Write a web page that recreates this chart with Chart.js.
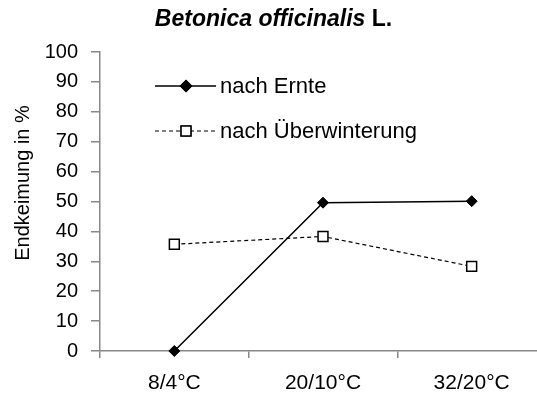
<!DOCTYPE html>
<html>
<head>
<meta charset="utf-8">
<script src="https://cdn.jsdelivr.net/npm/chart.js@4"></script>
<style>
  html, body { margin: 0; padding: 0; background: #fff; }
  #wrap { width: 537px; height: 397px; overflow: hidden; position: relative; }
  canvas { display: block; }
</style>
</head>
<body>
<div id="wrap"><canvas id="chart" width="560" height="397"></canvas></div>
<script>
// --- DATOS ---
const categorias = ["8/4°C", "20/10°C", "32/20°C"];
const nachErnte = [0, 49.6, 50.1];
const nachUeberwinterung = [35.7, 38.3, 28.3];
const serieNombres = ["nach Ernte", "nach Überwinterung"];
const ticksY = [0, 10, 20, 30, 40, 50, 60, 70, 80, 90, 100];
const tituloEjeY = "Endkeimung in %";

const FONT = "'Liberation Sans', Arial, sans-serif";
const GRIS = "#888888";

// título con partes en cursiva + título del eje Y
const tituloPlugin = {
  id: "tituloMixto",
  afterDraw(chart) {
    const ctx = chart.ctx;
    ctx.save();
    ctx.fillStyle = "#000";
    ctx.textBaseline = "alphabetic";
    const p1 = "Betonica officinalis";
    const p2 = " L.";
    ctx.font = "italic bold 23px " + FONT;
    const w1 = ctx.measureText(p1).width;
    ctx.font = "bold 23px " + FONT;
    const w2 = ctx.measureText(p2).width;
    let x = 273.5 - (w1 + w2) / 2;
    ctx.font = "italic bold 23px " + FONT;
    ctx.fillText(p1, x, 26);
    ctx.font = "bold 23px " + FONT;
    ctx.fillText(p2, x + w1, 26);

    // eje Y
    ctx.translate(23, 183);
    ctx.rotate(-Math.PI / 2);
    ctx.font = "20px " + FONT;
    ctx.textAlign = "center";
    ctx.textBaseline = "middle";
    ctx.fillText(tituloEjeY, 0, 0);
    ctx.restore();
  }
};

// leyenda dentro del área del gráfico
const leyendaPlugin = {
  id: "leyendaInterna",
  afterDraw(chart) {
    const ctx = chart.ctx;
    const filas = [86, 131];
    chart.data.datasets.forEach((ds, i) => {
      const y = filas[i];
      ctx.save();
      ctx.strokeStyle = ds.borderColor;
      ctx.lineWidth = ds.borderWidth;
      ctx.setLineDash(ds.borderDash || []);
      ctx.beginPath();
      ctx.moveTo(155, y);
      ctx.lineTo(216, y);
      ctx.stroke();
      ctx.setLineDash([]);
      Chart.helpers.drawPoint(ctx, {
        pointStyle: ds.pointStyle,
        radius: ds.pointRadius,
        borderWidth: ds.pointBorderWidth,
        rotation: 0
      }, 186, y);
      ctx.fillStyle = ds.pointBackgroundColor;
      ctx.strokeStyle = ds.pointBorderColor;
      ctx.lineWidth = ds.pointBorderWidth;
      ctx.fill();
      ctx.stroke();
      ctx.fillStyle = "#000";
      ctx.font = "22px " + FONT;
      ctx.textBaseline = "middle";
      ctx.fillText(ds.label, 220, y + 1);
      ctx.restore();
    });
  }
};

new Chart(document.getElementById("chart"), {
  type: "line",
  data: {
    labels: categorias,
    datasets: [
      {
        label: serieNombres[0],
        data: nachErnte,
        borderColor: "#000",
        borderWidth: 1.5,
        pointStyle: "rectRot",
        pointRadius: 5.5,
        pointBackgroundColor: "#000",
        pointBorderColor: "#000",
        pointBorderWidth: 1,
        clip: false
      },
      {
        label: serieNombres[1],
        data: nachUeberwinterung,
        borderColor: "#000",
        borderWidth: 1.2,
        borderDash: [4, 3],
        pointStyle: "rect",
        pointRadius: 7,
        pointBackgroundColor: "#fff",
        pointBorderColor: "#000",
        pointBorderWidth: 1.5,
        clip: false
      }
    ]
  },
  options: {
    responsive: false,
    animation: false,
    layout: { padding: { top: 52, right: 14, left: 0, bottom: 0 } },
    plugins: {
      legend: { display: false },
      title: { display: false },
      tooltip: { enabled: false }
    },
    scales: {
      x: {
        offset: true,
        grid: { offset: true, drawOnChartArea: false, drawTicks: true, tickLength: 7, color: GRIS, lineWidth: 1.5 },
        border: { color: GRIS, width: 1.5 },
        ticks: { color: "#000", font: { family: FONT, size: 21 }, padding: 13, maxRotation: 0 },
        afterFit(s) { s.height = 46; }
      },
      y: {
        min: 0,
        max: 100,
        afterBuildTicks(s) { s.ticks = ticksY.map(v => ({ value: v })); },
        grid: { drawOnChartArea: false, drawTicks: true, tickLength: 9, color: GRIS, lineWidth: 1.5 },
        border: { color: GRIS, width: 1.5 },
        ticks: { color: "#000", font: { family: FONT, size: 20 }, padding: 13 },
        afterFit(s) { s.width = 100; }
      }
    }
  },
  plugins: [tituloPlugin, leyendaPlugin]
});
</script>
</body>
</html>
